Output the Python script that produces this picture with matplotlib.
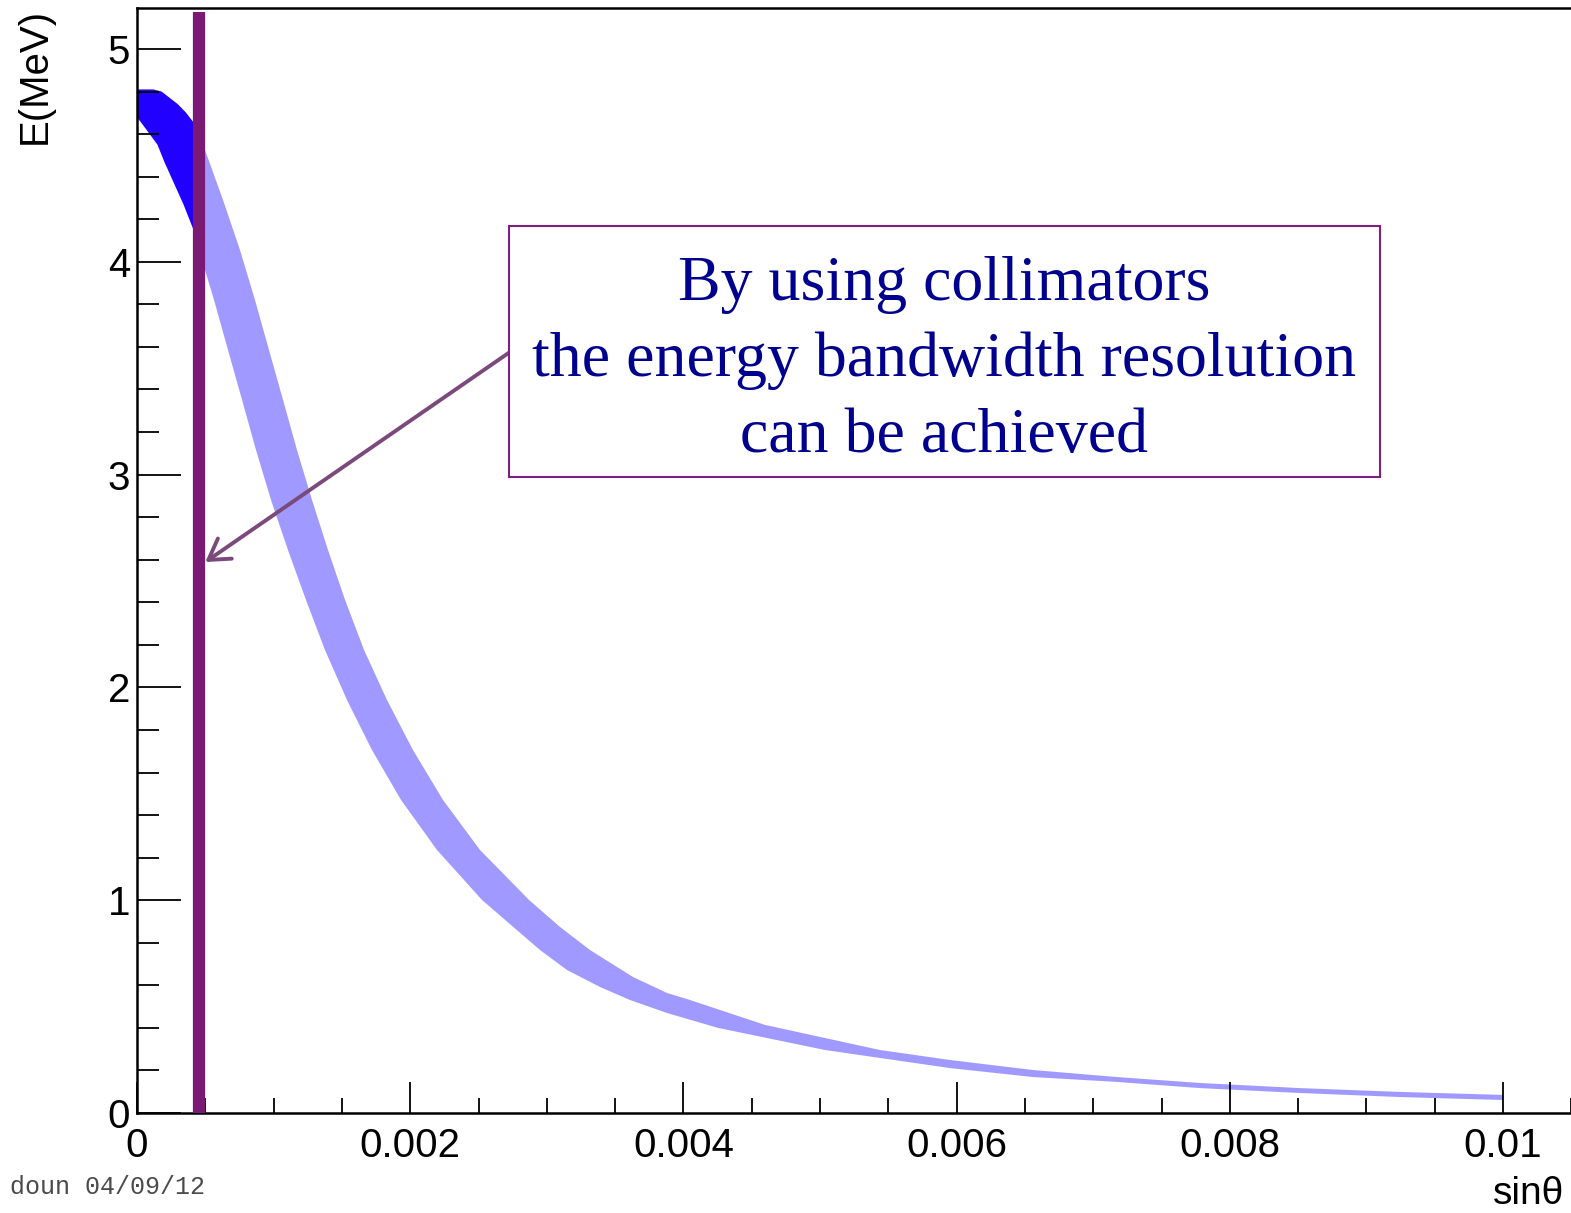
import matplotlib
matplotlib.use("Agg")
import matplotlib.pyplot as plt
from matplotlib.patches import Rectangle
from matplotlib.ticker import MultipleLocator

plt.rcParams['font.family'] = ['Liberation Sans', 'DejaVu Sans']

# band: sin(theta) and E (MeV) along its two edges
# part kept by the collimator (dark blue)
s_in_hi = [0.0, 0.00012, 0.00018, 0.00024, 0.0003, 0.00036, 0.00042]
e_in_hi = [4.81, 4.81, 4.80, 4.77, 4.74, 4.70, 4.65]
s_in_lo = [0.0, 0.00007, 0.00015, 0.0002, 0.00027, 0.00034, 0.00042]
e_in_lo = [4.68, 4.62, 4.55, 4.47, 4.37, 4.27, 4.14]

# part cut away (light)
s_out_hi = [0.000498, 0.00063, 0.000754, 0.000864, 0.000966, 0.001069, 0.001171,
            0.001281, 0.001398, 0.001523, 0.001662, 0.00183, 0.00202, 0.00224,
            0.002511, 0.00287, 0.003097, 0.003316, 0.003631, 0.00388, 0.004048,
            0.004597, 0.005439, 0.005952, 0.006559, 0.007174, 0.007782, 0.008514,
            0.009246, 0.01]
e_out_hi = [4.525, 4.29, 4.055, 3.82, 3.586, 3.351, 3.116,
            2.881, 2.646, 2.411, 2.176, 1.941, 1.706, 1.471,
            1.236, 1.001, 0.874, 0.766, 0.639, 0.564, 0.531,
            0.414, 0.296, 0.249, 0.202, 0.169, 0.141, 0.117,
            0.099, 0.085]
s_out_lo = [0.000498, 0.000564, 0.000666, 0.000769, 0.000871, 0.000981, 0.001105,
            0.001237, 0.001376, 0.001537, 0.00172, 0.001933, 0.002196, 0.002526,
            0.00295, 0.003148, 0.00339, 0.003609, 0.00388, 0.004253, 0.005037,
            0.005952, 0.006559, 0.007174, 0.007782, 0.008514, 0.009246, 0.01]
e_out_lo = [3.961, 3.82, 3.586, 3.351, 3.116, 2.881, 2.646,
            2.411, 2.176, 1.941, 1.706, 1.471, 1.236, 1.001,
            0.766, 0.672, 0.592, 0.531, 0.47, 0.40, 0.296,
            0.211, 0.169, 0.146, 0.117, 0.094, 0.075, 0.061]

cut = 0.000454
box_lines = ["By using collimators", "the energy bandwidth resolution", "can be achieved"]

W, H = 1571, 1213
fig = plt.figure(figsize=(W / 100, H / 100), dpi=100)
xmax = 0.0106
ax = fig.add_axes([137 / W, 1 - 1113 / H, xmax * 136600 / W, (1113 - 8) / H])
ax.set_xlim(0, xmax)
ax.set_ylim(0, (1113 - 8) / 212.8)

ax.fill(s_out_hi + s_out_lo[::-1], e_out_hi + e_out_lo[::-1], color='#a099ff', lw=0)
ax.fill(s_in_hi + s_in_lo[::-1], e_in_hi + e_in_lo[::-1], color='#2200ff', lw=0)
ax.vlines(cut, 0, (1113 - 12) / 212.8, color='#7b1a74', lw=8.8, zorder=3)

ax.annotate('', xy=(0.0005, 2.589), xytext=(0.00273, 3.576),
            arrowprops=dict(arrowstyle='->,head_length=0.36,head_width=0.22',
                            mutation_scale=40, color='#7b4a7b', lw=2.8,
                            shrinkA=0, shrinkB=0), zorder=4)

# ticks, ROOT style
ax.xaxis.set_major_locator(MultipleLocator(0.002))
ax.xaxis.set_minor_locator(MultipleLocator(0.0005))
ax.yaxis.set_major_locator(MultipleLocator(1))
ax.yaxis.set_minor_locator(MultipleLocator(0.2))
ax.tick_params(axis='x', which='major', direction='in', length=22, width=1.3,
               labelsize=29, pad=10)
ax.tick_params(axis='x', which='minor', direction='in', length=11, width=1.3)
ax.tick_params(axis='y', which='major', direction='in', length=32, width=1.3,
               labelsize=29, pad=5)
ax.tick_params(axis='y', which='minor', direction='in', length=16, width=1.3)
ax.xaxis.set_major_formatter(plt.FuncFormatter(lambda v, p: '0' if v == 0 else '%g' % v))
ax.yaxis.set_major_formatter(plt.FuncFormatter(lambda v, p: '%d' % round(v)))
for sp in ax.spines.values():
    sp.set_linewidth(1.8)

# text box
fig.add_artist(Rectangle((509 / W, 1 - 477 / H), (1380 - 509) / W, (477 - 226) / H,
                         transform=fig.transFigure, fill=True, facecolor='white',
                         edgecolor='#7f1f7f', lw=1.5, zorder=5))
for i, line in enumerate(box_lines):
    fig.text(944 / W, 1 - (300 + 76 * i) / H, line, ha='center', va='baseline',
             family='Liberation Serif', fontsize=46, color='#00008f', zorder=6)

fig.text(35 / W, 1 - 8 / H, 'E(MeV)', rotation=90, ha='center', va='top', fontsize=29)
fig.text(1493 / W, 1 - 1176 / H, 'sinθ', ha='left', va='top', fontsize=28)
fig.text(205 / W, 1 - 1194 / H, 'doun 04/09/12', ha='right', va='baseline',
         family='Liberation Mono', fontsize=18, color='#4a4a4a')

fig.savefig('out.png', dpi=100)
